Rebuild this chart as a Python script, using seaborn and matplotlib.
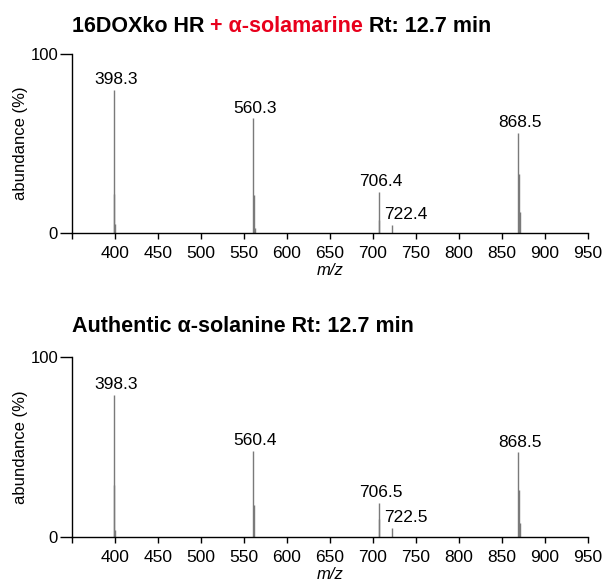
import matplotlib
matplotlib.use("Agg")
import matplotlib.pyplot as plt
import seaborn as sns
import pandas as pd

sns.set_style("ticks")
plt.rcParams['font.family'] = ['Liberation Sans', 'DejaVu Sans']

# Top panel: 16DOXko HR + alpha-solamarine
top_mz = [398.3, 399.3, 400.3, 560.3, 561.3, 562.3, 706.4, 707.4, 722.4, 868.5, 869.5, 870.5]
top_ab = [80, 22, 5, 64, 21, 3, 23, 7, 4.5, 56, 33, 12]
top_labels = {398.3: "398.3", 560.3: "560.3", 706.4: "706.4", 722.4: "722.4", 868.5: "868.5"}

# Bottom panel: authentic alpha-solanine
bot_mz = [398.3, 399.3, 400.3, 560.4, 561.4, 706.5, 707.5, 722.5, 868.5, 869.5, 870.5]
bot_ab = [79, 29, 4, 48, 18, 19, 10, 5, 47, 26, 8]
bot_labels = {398.3: "398.3", 560.4: "560.4", 706.5: "706.5", 722.5: "722.5", 868.5: "868.5"}

x_ticks = [350, 400, 450, 500, 550, 600, 650, 700, 750, 800, 850, 900, 950]
x_ticklabels = ["", "400", "450", "500", "550", "600", "650", "700", "750", "800", "850", "900", "950"]

W, H = 607, 582
fig = plt.figure(figsize=(W / 100, H / 100), dpi=100)

ax1 = fig.add_axes([72 / W, 1 - 233 / H, (588 - 72) / W, (233 - 54) / H])
ax2 = fig.add_axes([72 / W, 1 - 537 / H, (588 - 72) / W, (537 - 357) / H])


def draw(ax, mz, ab, labels):
    df = pd.DataFrame({"mz": mz, "ab": ab})
    ax.vlines(df["mz"], 0, df["ab"], color="#7a7a7a", linewidth=1.0)
    for m, a in zip(mz, ab):
        if m in labels:
            txt = labels[m]
            dx = 10 if txt.startswith("722") else 1.5
            ax.annotate(txt, (m, a), xytext=(dx, 2), textcoords="offset points",
                        ha="center", va="bottom", fontsize=12.5, color="black",
                        annotation_clip=False)
    ax.set_xlim(350, 950)
    ax.set_ylim(0, 100)
    ax.set_xticks(x_ticks)
    ax.set_xticklabels(x_ticklabels, fontsize=12.5, color="black")
    ax.set_yticks([0, 100])
    ax.set_yticklabels(["0", "100"], fontsize=12, color="black")
    ax.tick_params(axis="x", direction="out", length=4, width=1, color="black", pad=5)
    ax.tick_params(axis="y", direction="out", length=9, width=1, color="black", pad=1)
    sns.despine(ax=ax)
    for s in ["left", "bottom"]:
        ax.spines[s].set_linewidth(1)
        ax.spines[s].set_color("black")
    ax.set_xlabel("m/z", fontstyle="italic", fontsize=12, color="black")
    ax.xaxis.set_label_coords(0.5, -0.165)
    ax.set_ylabel("abundance (%)", fontsize=12, color="black")
    ax.yaxis.set_label_coords(-0.085, 0.5)


draw(ax1, top_mz, top_ab, top_labels)
draw(ax2, bot_mz, bot_ab, bot_labels)

# Titles with mixed colors
fig.canvas.draw()
r = fig.canvas.get_renderer()
x = 72 / W
y_t = 1 - 32 / H
parts = [("16DOXko HR ", "black"), ("+ α-solamarine", "#e8001c"), (" Rt: 12.7 min", "black")]
for txt, col in parts:
    t = fig.text(x, y_t, txt, fontsize=15.5, fontweight="bold", color=col,
                 ha="left", va="baseline")
    bb = t.get_window_extent(renderer=r)
    x += bb.width / W

fig.text(72 / W, 1 - 332 / H, "Authentic α-solanine Rt: 12.7 min", fontsize=15.5,
         fontweight="bold", color="black", ha="left", va="baseline")

fig.savefig("out.png", dpi=100)
